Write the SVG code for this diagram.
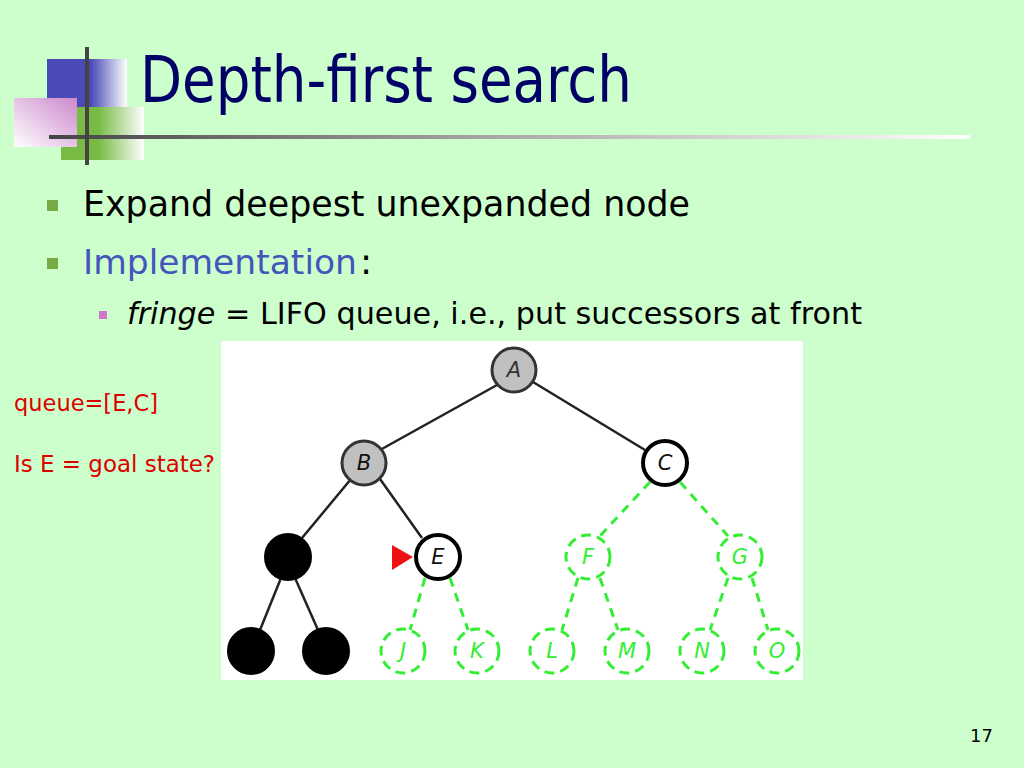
<svg xmlns="http://www.w3.org/2000/svg" width="1024" height="768" viewBox="0 0 1024 768">
<defs>
  <linearGradient id="gBlue" x1="0" y1="0" x2="1" y2="0">
    <stop offset="0" stop-color="#4a4ab8"/><stop offset="0.55" stop-color="#4a4ab8"/><stop offset="1" stop-color="#ffffff"/>
  </linearGradient>
  <linearGradient id="gPink" x1="1" y1="0" x2="0" y2="1">
    <stop offset="0" stop-color="#cc88cc"/><stop offset="1" stop-color="#ffffff"/>
  </linearGradient>
  <linearGradient id="gGreen" x1="0" y1="0" x2="1" y2="0">
    <stop offset="0" stop-color="#77bb44"/><stop offset="0.45" stop-color="#77bb44"/><stop offset="1" stop-color="#ffffff"/>
  </linearGradient>
  <linearGradient id="gRule" x1="0" y1="0" x2="1" y2="0">
    <stop offset="0" stop-color="#444444"/><stop offset="0.5" stop-color="#aaaaaa"/><stop offset="1" stop-color="#ffffff"/>
  </linearGradient>
  <style>
    .txt{font-family:"DejaVu Sans","Liberation Sans",sans-serif}
    .edge{stroke:#222;stroke-width:2.5;fill:none}
    .gedge{stroke:#33ee33;stroke-width:3;fill:none;stroke-dasharray:9 7}
    .gray{fill:#c0c0c0;stroke:#333;stroke-width:3}
    .open{fill:#fff;stroke:#000;stroke-width:4}
    .done{fill:#000;stroke:#000;stroke-width:2}
    .gnode{fill:#fff;stroke:#33ee33;stroke-width:3;stroke-dasharray:10 6}
    .lbl{font-family:"DejaVu Sans","Liberation Sans",sans-serif;font-style:italic;font-size:21px;text-anchor:middle}
    .glbl{fill:#33ee33}
  </style>
</defs>
<rect width="1024" height="768" fill="#ccffcc"/>
<g id="logo">
  <rect x="47" y="59" width="80" height="48" fill="url(#gBlue)"/>
  <rect x="61" y="107" width="83" height="53" fill="url(#gGreen)"/>
  <rect x="14" y="98" width="63" height="49" fill="url(#gPink)"/>
  <rect x="49" y="135" width="921" height="4" fill="url(#gRule)"/>
  <rect x="85" y="47" width="4" height="118" fill="#444444"/>
</g>
<text class="txt" x="140" y="102" font-size="64" fill="#000066" textLength="492" lengthAdjust="spacingAndGlyphs">Depth-first search</text>
<g id="bullets">
  <rect x="47" y="200" width="11" height="11" fill="#77aa44"/>
  <text class="txt" x="83" y="216" font-size="36" fill="#000" textLength="607" lengthAdjust="spacingAndGlyphs">Expand deepest unexpanded node</text>
  <rect x="47" y="258" width="11" height="11" fill="#77aa44"/>
  <text class="txt" x="83" y="274" font-size="34.5" fill="#4455bb">Implementation</text>
  <text class="txt" x="360" y="274" font-size="36" fill="#000">:</text>
  <rect x="99" y="311" width="8" height="8" fill="#cc77cc"/>
  <text class="txt" x="127" y="324" font-size="31" fill="#000" textLength="735" lengthAdjust="spacingAndGlyphs"><tspan font-style="italic">fringe</tspan> = LIFO queue, i.e., put successors at front</text>
</g>
<text class="txt" x="14" y="411" font-size="22.5" fill="#dd0000" textLength="144" lengthAdjust="spacingAndGlyphs">queue=[E,C]</text>
<text class="txt" x="14" y="472" font-size="22.5" fill="#dd0000" textLength="201" lengthAdjust="spacingAndGlyphs">Is E = goal state?</text>
<text class="txt" x="970" y="742" font-size="18" fill="#000">17</text>
<rect x="221" y="341" width="582" height="339" fill="#ffffff"/>
<g id="connectors">
  <line class="edge" x1="497" y1="385" x2="380" y2="450"/>
  <line class="edge" x1="533" y1="382" x2="645" y2="450"/>
  <line class="edge" x1="351" y1="479" x2="302" y2="538"/>
  <line class="edge" x1="380" y1="479" x2="422" y2="538"/>
  <line class="edge" x1="281" y1="578" x2="260" y2="630"/>
  <line class="edge" x1="295" y1="578" x2="318" y2="630"/>
  <line class="gedge" x1="650" y1="482" x2="600" y2="536"/>
  <line class="gedge" x1="680" y1="482" x2="728" y2="536"/>
  <line class="gedge" x1="425" y1="578" x2="410" y2="630"/>
  <line class="gedge" x1="450" y1="578" x2="468" y2="630"/>
  <line class="gedge" x1="578" y1="578" x2="562" y2="630"/>
  <line class="gedge" x1="600" y1="578" x2="618" y2="630"/>
  <line class="gedge" x1="728" y1="578" x2="710" y2="630"/>
  <line class="gedge" x1="752" y1="578" x2="768" y2="630"/>
</g>
<g id="A"><circle class="gray" cx="514" cy="370" r="22"/><text class="lbl" x="514" y="377" fill="#333">A</text></g>
<g id="B"><circle class="gray" cx="364" cy="463" r="22"/><text class="lbl" x="364" y="470" fill="#111">B</text></g>
<g id="C"><circle class="open" cx="665" cy="463" r="22"/><text class="lbl" x="665" y="470" fill="#111">C</text></g>
<g id="D"><circle class="done" cx="288" cy="557" r="23"/></g>
<g id="E"><circle class="open" cx="438" cy="557" r="22"/><text class="lbl" x="438" y="564" fill="#111">E</text></g>
<g id="F"><circle class="gnode" cx="588" cy="557" r="22"/><text class="lbl glbl" x="588" y="564">F</text></g>
<g id="G"><circle class="gnode" cx="740" cy="557" r="22"/><text class="lbl glbl" x="740" y="564">G</text></g>
<g id="H"><circle class="done" cx="251" cy="651" r="23"/></g>
<g id="I"><circle class="done" cx="326" cy="651" r="23"/></g>
<g id="J"><circle class="gnode" cx="403" cy="651" r="22"/><text class="lbl glbl" x="403" y="658">J</text></g>
<g id="K"><circle class="gnode" cx="477" cy="651" r="22"/><text class="lbl glbl" x="477" y="658">K</text></g>
<g id="L"><circle class="gnode" cx="552" cy="651" r="22"/><text class="lbl glbl" x="552" y="658">L</text></g>
<g id="M"><circle class="gnode" cx="627" cy="651" r="22"/><text class="lbl glbl" x="627" y="658">M</text></g>
<g id="N"><circle class="gnode" cx="702" cy="651" r="22"/><text class="lbl glbl" x="702" y="658">N</text></g>
<g id="O"><circle class="gnode" cx="777" cy="651" r="22"/><text class="lbl glbl" x="777" y="658">O</text></g>
<polygon id="pointer" points="392,545 413,557 392,570" fill="#ee1111"/>
</svg>
